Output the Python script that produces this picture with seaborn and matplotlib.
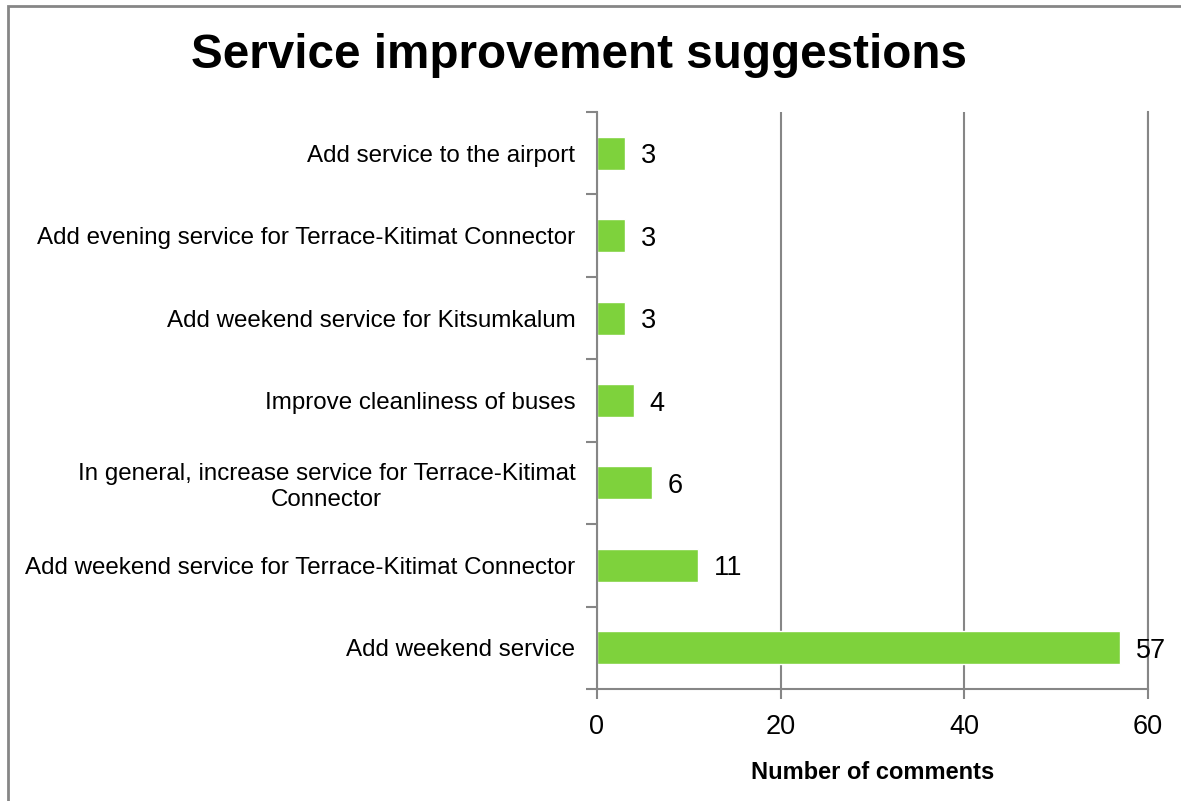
import matplotlib
matplotlib.use("Agg")
import matplotlib.pyplot as plt
from matplotlib.patches import Rectangle
from matplotlib.ticker import FixedLocator
import seaborn as sns
import pandas as pd

categories = [
    "Add service to the airport",
    "Add evening service for Terrace-Kitimat Connector",
    "Add weekend service for Kitsumkalum",
    "Improve cleanliness of buses",
    "In general, increase service for Terrace-Kitimat\nConnector",
    "Add weekend service for Terrace-Kitimat Connector",
    "Add weekend service",
]
comments = [3, 3, 3, 4, 6, 11, 57]
x_ticks = [0, 20, 40, 60]

title = "Service improvement suggestions"
x_label = "Number of comments"

sns.set_theme(style="white")
plt.rcParams["font.family"] = ["Liberation Sans", "DejaVu Sans"]

GREEN = "#7ED23C"
GRAY = "#868686"

df = pd.DataFrame({"category": categories, "comments": comments})

fig = plt.figure(figsize=(11.81, 8.01), dpi=100)
ax = fig.add_axes([597 / 1181, 1 - 689 / 801, (1148 - 597) / 1181, (689 - 112) / 801])

sns.barplot(data=df, x="comments", y="category", order=categories,
            color=GREEN, saturation=1, width=0.40, ax=ax, orient="h")

ax.set_xlim(0, 60)
ax.set_ylim(len(categories) - 0.5, -0.5)
ax.xaxis.set_major_locator(FixedLocator(x_ticks))
ax.grid(axis="x", color=GRAY, linewidth=1.5)
ax.set_axisbelow(True)

ax.spines["top"].set_visible(False)
for spine in ["left", "bottom", "right"]:
    ax.spines[spine].set_color(GRAY)
    ax.spines[spine].set_linewidth(1.5)

# category boundaries carry the y tick marks
ax.yaxis.set_minor_locator(FixedLocator([i - 0.5 for i in range(len(categories) + 1)]))
ax.tick_params(axis="y", which="major", length=0, pad=15.5, labelsize=17.4, labelcolor="black")
ax.tick_params(axis="y", which="minor", length=8, width=1.5, color=GRAY, left=True, right=False)
ax.tick_params(axis="x", which="major", length=7, width=1.5, color=GRAY, bottom=True,
               pad=11, labelsize=19.5, labelcolor="black")
for lbl in ax.get_yticklabels():
    lbl.set_multialignment("center")

ax.set_ylabel("")
ax.set_xlabel(x_label, fontsize=17, fontweight="bold", labelpad=15, color="black")

for i, v in enumerate(comments):
    ax.annotate(str(v), xy=(v, i), xytext=(16, -3), textcoords="offset pixels",
                ha="left", va="center", fontsize=19.5, color="black")

fig.text(579 / 1181, 1 - 56 / 801, title, ha="center", va="center",
         fontsize=34.3, fontweight="bold", color="black")

# outer chart border
fig.patches.append(Rectangle((7.5 / 1181, -0.05), 1.2, 1 - 5.5 / 801 + 0.05,
                             transform=fig.transFigure, fill=False,
                             edgecolor=GRAY, linewidth=2, zorder=0))

fig.savefig("out.png", dpi=100, facecolor="white")
